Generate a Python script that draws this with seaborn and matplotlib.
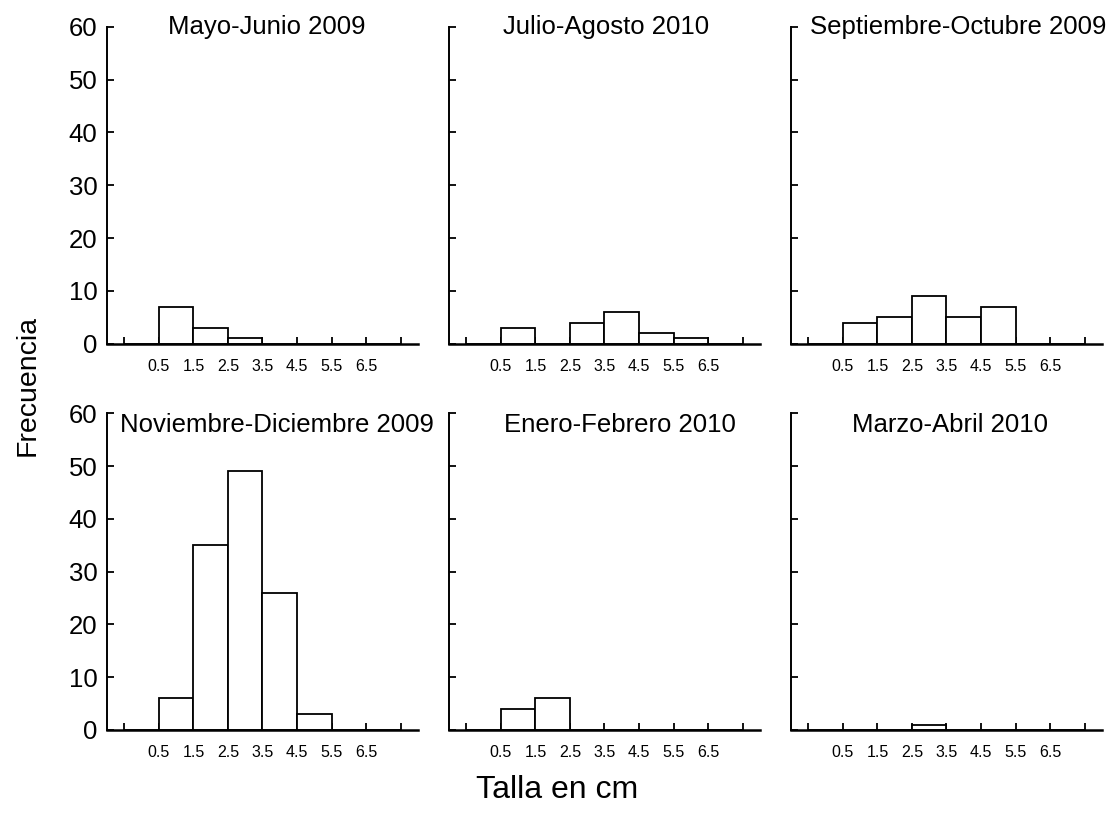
import numpy as np
import pandas as pd
import matplotlib
matplotlib.use("Agg")
import matplotlib.pyplot as plt
import seaborn as sns

# ---- data ----
titles = ["Mayo-Junio 2009", "Julio-Agosto 2010", "Septiembre-Octubre 2009",
          "Noviembre-Diciembre 2009", "Enero-Febrero 2010", "Marzo-Abril 2010"]
bin_edges = [-0.5, 0.5, 1.5, 2.5, 3.5, 4.5, 5.5, 6.5, 7.5]
tick_labels = ["", "0.5", "1.5", "2.5", "3.5", "4.5", "5.5", "6.5", ""]
counts_mayo_junio = [0, 7, 3, 1, 0, 0, 0, 0]
counts_julio_agosto = [0, 3, 0, 4, 6, 2, 1, 0]
counts_sept_oct = [0, 4, 5, 9, 5, 7, 0, 0]
counts_nov_dic = [0, 6, 35, 49, 26, 3, 0, 0]
counts_ene_feb = [0, 4, 6, 0, 0, 0, 0, 0]
counts_mar_abr = [0, 0, 0, 1, 0, 0, 0, 0]
y_ticks = [0, 10, 20, 30, 40, 50, 60]

all_counts = [counts_mayo_junio, counts_julio_agosto, counts_sept_oct,
              counts_nov_dic, counts_ene_feb, counts_mar_abr]

# layout (title horizontal placement in axes fraction)
title_x = [0.514, 0.505, 0.537, 0.547, 0.55, 0.511]

sns.set_style("ticks")
plt.rcParams['font.family'] = ['Liberation Sans', 'DejaVu Sans']
plt.rcParams['text.color'] = 'black'
plt.rcParams['axes.labelcolor'] = 'black'
plt.rcParams['xtick.color'] = 'black'
plt.rcParams['ytick.color'] = 'black'

fig, axes = plt.subplots(2, 3, figsize=(11.15, 8.16), dpi=100)
fig.subplots_adjust(left=0.096, right=0.9883, top=0.967, bottom=0.1054,
                    wspace=0.1, hspace=0.22)

centers = [(bin_edges[i] + bin_edges[i + 1]) / 2 for i in range(len(bin_edges) - 1)]

for i, ax in enumerate(axes.flat):
    df = pd.DataFrame({"talla": centers, "n": all_counts[i]})
    sns.histplot(data=df, x="talla", weights="n", bins=bin_edges, ax=ax,
                 color="white", edgecolor="black", linewidth=1.3, alpha=1)
    ax.set_xlim(-1, 8)
    ax.set_ylim(0, 60)
    ax.set_xlabel("")
    ax.set_ylabel("")
    ax.set_xticks(bin_edges)
    ax.set_xticklabels(tick_labels)
    ax.set_yticks(y_ticks)
    if i % 3 == 0:
        ax.set_yticklabels([str(v) for v in y_ticks])
    else:
        ax.set_yticklabels([])
    ax.tick_params(axis='x', direction='in', length=5, width=1.3,
                   labelsize=11.5, pad=11, colors='black')
    ax.tick_params(axis='y', direction='in', length=5, width=1.3,
                   labelsize=18.5, pad=7, colors='black')
    for s in ['top', 'right']:
        ax.spines[s].set_visible(False)
    ax.spines['left'].set_linewidth(1.4)
    ax.spines['bottom'].set_linewidth(1.8)
    ax.spines['left'].set_color('black')
    ax.spines['bottom'].set_color('black')
    ty = 60 if i < 3 else 57.7
    ax.text(title_x[i], ty, titles[i], transform=ax.get_yaxis_transform(),
            ha='center', va='center', fontsize=18.5, clip_on=False)

fig.text(0.5, 0.032, "Talla en cm", ha='center', va='center', fontsize=23)
fig.text(0.025, 0.527, "Frecuencia", ha='center', va='center', fontsize=20.5,
         rotation=90)

fig.savefig("out.png", dpi=100, facecolor='white')
